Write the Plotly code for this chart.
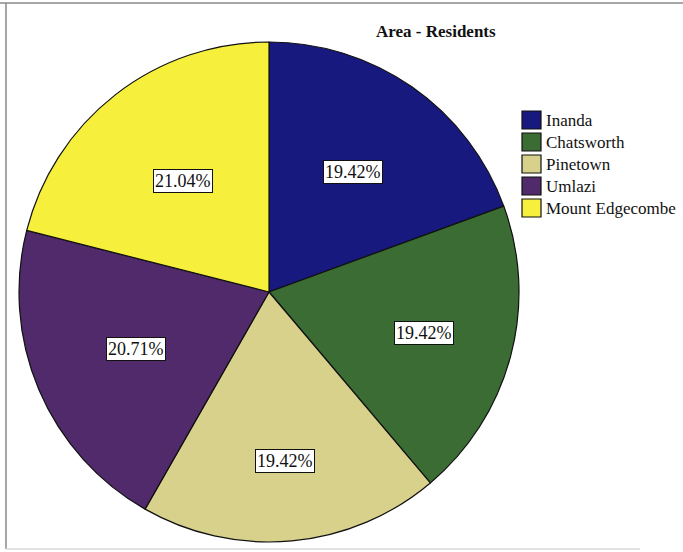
import math
import plotly.graph_objects as go

# Share of residents by area
areas = ["Inanda", "Chatsworth", "Pinetown", "Umlazi", "Mount Edgecombe"]
shares = [19.42, 19.42, 19.42, 20.71, 21.04]
colors = ["#17197e", "#3a6c33", "#d7d18b", "#502a6a", "#f6ef3c"]

W, H = 683, 552
CX, CY, R = 269, 292, 250           # pie centre and radius in pixels
label_radius = [0.585, 0.64, 0.68, 0.58, 0.56]  # radial placement of value boxes


def px(x):
    return x / W


def py(y):
    return 1 - y / H


fig = go.Figure(go.Pie(
    labels=areas,
    values=shares,
    marker=dict(colors=colors, line=dict(color="#111111", width=1.2)),
    sort=False,
    direction="clockwise",
    rotation=0,
    textinfo="none",
    hoverinfo="label+percent",
    showlegend=False,
    domain=dict(x=[px(CX - R), px(CX + R)], y=[py(CY + R), py(CY - R)]),
))

annotations = []
shapes = []

# Boxed value labels at each slice's mid-angle
total = sum(shares)
acc = 0.0
for name, v, f in zip(areas, shares, label_radius):
    mid = (acc + v / 2) / total * 2 * math.pi
    acc += v
    lx = CX + f * R * math.sin(mid)
    ly = CY - f * R * math.cos(mid)
    annotations.append(dict(
        x=px(lx), y=py(ly), xref="paper", yref="paper",
        xanchor="center", yanchor="middle",
        text=f"{v:.2f}%", showarrow=False,
        font=dict(family="Liberation Serif", size=18, color="#111111"),
        bgcolor="white", bordercolor="#111111", borderwidth=1, borderpad=1,
    ))

# Title
annotations.append(dict(
    x=px(436), y=py(31), xref="paper", yref="paper",
    xanchor="center", yanchor="middle",
    text="<b>Area - Residents</b>", showarrow=False,
    font=dict(family="Liberation Serif", size=17, color="#111111"),
))

# Legend: colour swatches with area names
for i, (name, c) in enumerate(zip(areas, colors)):
    top = 111 + 22 * i
    shapes.append(dict(
        type="rect", xref="paper", yref="paper",
        x0=px(522), x1=px(541), y0=py(top + 18), y1=py(top),
        fillcolor=c, line=dict(color="#111111", width=1.2),
    ))
    annotations.append(dict(
        x=px(544), y=py(top + 9.5), xref="paper", yref="paper",
        xanchor="left", yanchor="middle",
        text=name, showarrow=False,
        font=dict(family="Liberation Serif", size=17, color="#111111"),
    ))

# Chart frame
frame = dict(color="#8a8a8a", width=1.5)
shapes.append(dict(type="line", xref="paper", yref="paper",
                   x0=0, x1=1, y0=py(3), y1=py(3), line=frame))
shapes.append(dict(type="line", xref="paper", yref="paper",
                   x0=px(6), x1=px(6), y0=py(3), y1=py(549), line=frame))
shapes.append(dict(type="line", xref="paper", yref="paper",
                   x0=px(6), x1=px(640), y0=py(549), y1=py(549),
                   line=dict(color="#d8d8d8", width=1.5)))

fig.update_layout(
    width=W, height=H,
    margin=dict(l=0, r=0, t=0, b=0),
    paper_bgcolor="white", plot_bgcolor="white",
    annotations=annotations, shapes=shapes,
)

fig.write_html("out.html")
